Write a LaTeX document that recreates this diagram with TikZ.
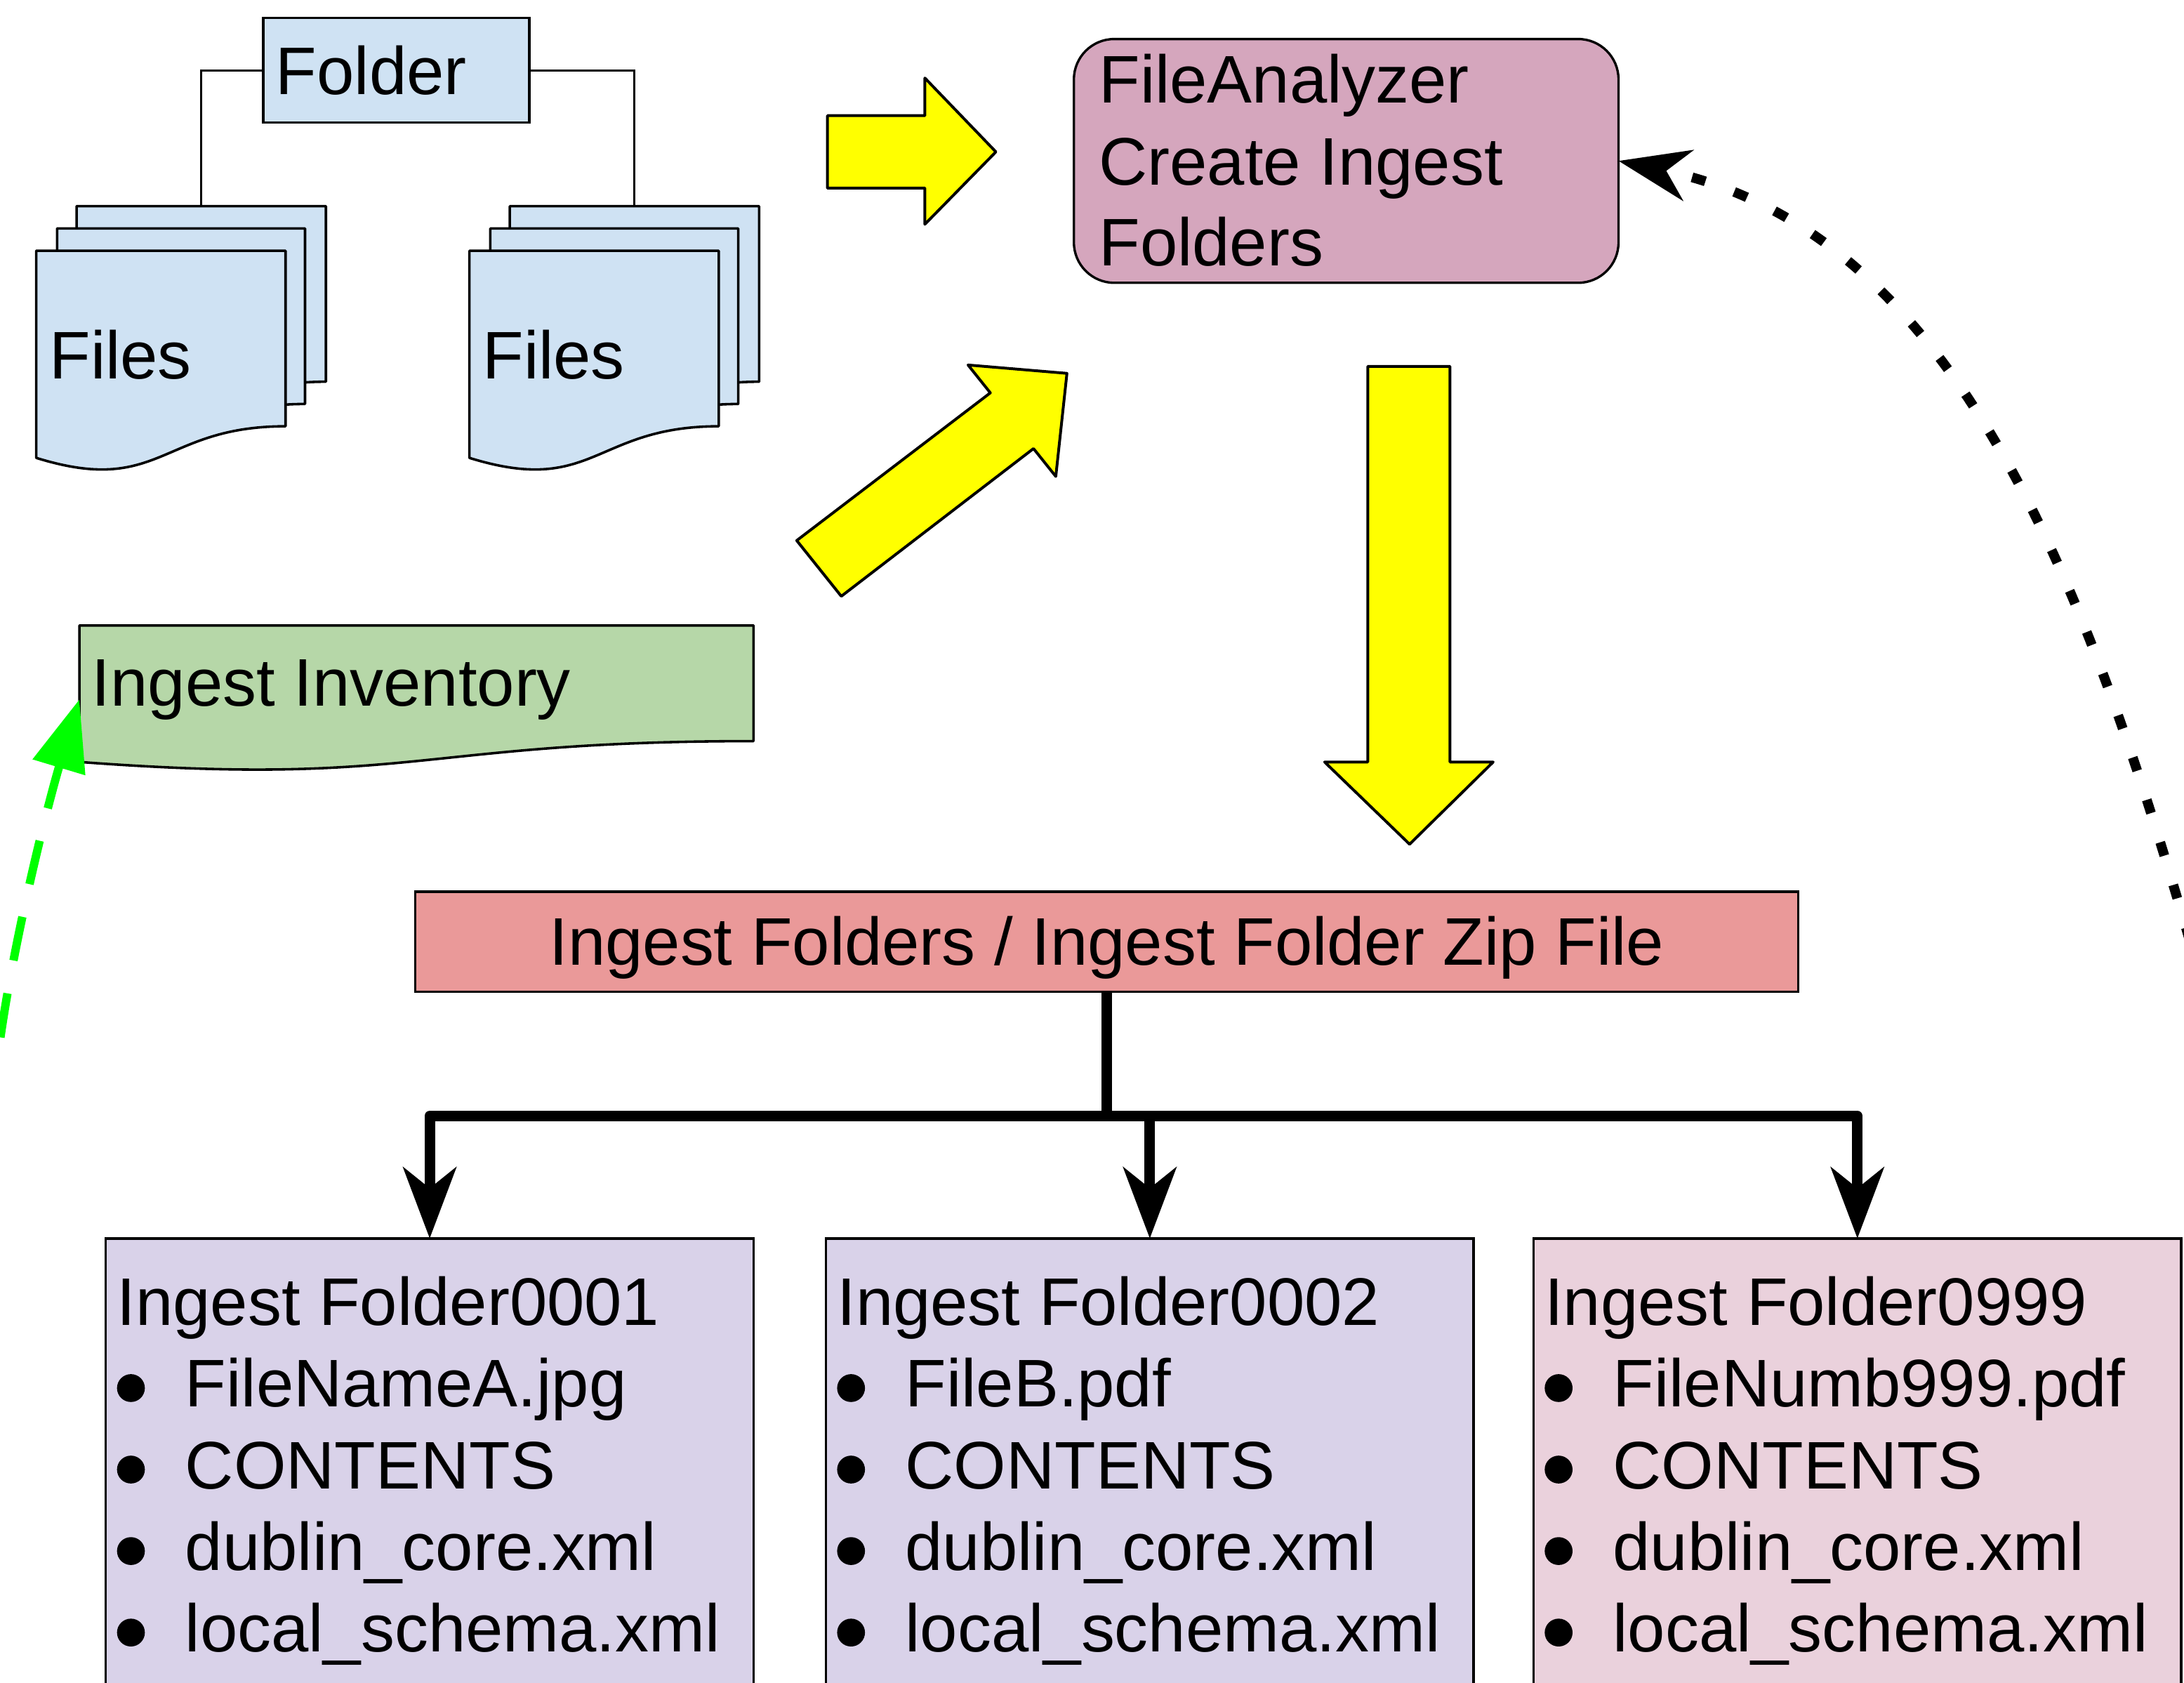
\documentclass[tikz,border=0pt]{standalone}
\usepackage{fontspec}
\setmainfont{Liberation Sans}
\usetikzlibrary{arrows.meta,fit,calc}

\definecolor{cFolder}{HTML}{CFE2F3}
\definecolor{cFA}{HTML}{D5A6BD}
\definecolor{cZip}{HTML}{EA9999}
\definecolor{cInv}{HTML}{B6D7A8}
\definecolor{cPurple}{HTML}{D9D2E9}
\definecolor{cMag}{HTML}{EAD1DC}
\definecolor{cYellow}{HTML}{FFFF00}
\definecolor{cGreen}{HTML}{00FF00}

% document shape: style, left, top, right, right-bottom
\newcommand\docshape[5]{%
  \path[#1] (#2,#3) -- (#4,#3) -- (#4,#5)
    .. controls ({(#2+#4)/2},#5) and ({(#2+#4)/2},{#3+1.40*(#5-#3)})
    .. (#2,{#3+1.18*(#5-#3)}) -- cycle;}

\tikzset{
  txt/.style={font=\fontsize{27.5}{33}\selectfont, inner sep=0pt, outer sep=0pt, anchor=base west},
  region/.style={inner sep=0pt, outer sep=0pt, fit={#1}},
  boxline/.style={draw=black, line width=0.034cm},
  doc/.style={draw=black, line width=0.036cm, fill=#1, line join=round},
  yarrow/.style={draw=black, line width=0.04cm, fill=cYellow, line join=round},
  conn/.style={draw=black, line width=0.03cm},
  treeline/.style={draw=black, line width=0.15cm, line join=round,
    -{Stealth[length=1.02cm,width=0.76cm,inset=0.3cm]}},
  dotarrow/.style={draw=black, line width=0.14cm, dash pattern=on 0.2cm off 0.44cm, dash phase=0.2cm,
    {Stealth[length=1.02cm,width=0.74cm,inset=0.32cm]}-},
  greenarrow/.style={draw=cGreen, line width=0.12cm, dash pattern=on 0.64cm off 0.48cm,
    {Triangle[length=1.02cm,width=0.76cm]}-},
}

\begin{document}
\begin{tikzpicture}[x=0.02cm,y=-0.02cm]
\useasboundingbox (0,0) rectangle (1568,1208);
\clip (0,0) rectangle (1568,1208);

% ---------- Files stacks ----------
\docshape{doc=cFolder}{55}{148}{234}{274}
\docshape{doc=cFolder}{41}{164}{219}{290}
\docshape{doc=cFolder}{26}{180}{205}{306}
\docshape{doc=cFolder}{366}{148}{545}{274}
\docshape{doc=cFolder}{352}{164}{530}{290}
\docshape{doc=cFolder}{337}{180}{516}{306}
\node[region={(55,148) (234,274)}] (lback) {};
\node[region={(366,148) (545,274)}] (rback) {};
\node[txt] (tfilesL) at (35.5,272) {Files};
\node[txt] (tfilesR) at (346.5,272) {Files};

% ---------- Folder ----------
\node[region={(189,13) (380,88)}, boxline, fill=cFolder] (fold) {};
\node[txt] (tfold) at (198,68) {Folder};
\draw[conn] (fold.west) -| (lback.north);
\draw[conn] (fold.east) -| (rback.north);

% ---------- FileAnalyzer ----------
\node[region={(771,28) (1162,203)}, boxline, fill=cFA, rounded corners=0.58cm] (fa) {};
\node[txt] (fa1) at (789,74) {FileAnalyzer};
\node[txt] (fa2) at (789,132.7) {Create Ingest};
\node[txt] (fa3) at (789,191) {Folders};

% ---------- yellow block arrows ----------
\draw[yarrow] (594,83) -- (664,83) -- (664,56) -- (715,109) -- (664,161) -- (664,135) -- (594,135) -- cycle;
\draw[yarrow] (572,388) -- (711,282) -- (695,262) -- (766,268) -- (758,342) -- (742,322) -- (604,428) -- cycle;
\draw[yarrow] (982,263) -- (1041,263) -- (1041,547) -- (1072,547) -- (1012,606) -- (951,547) -- (982,547) -- cycle;

% ---------- Ingest Inventory ----------
\docshape{doc=cInv}{57}{449}{541}{532}
\node[region={(57,449) (541,532)}] (inv) {};
\node[txt] (tinv) at (66,507) {Ingest Inventory};
\coordinate (invtip) at (57,502);
\coordinate (gstart) at (-2,762);
\draw[greenarrow] (invtip) .. controls (35,575) and (8,680) .. (gstart);

% ---------- Ingest Folders / Zip ----------
\node[region={(298,640) (1291,712)}, boxline, fill=cZip] (zip) {};
\node[txt, anchor=base] (tzip) at (794.5,693) {Ingest Folders / Ingest Folder Zip File};

% ---------- folder boxes ----------
\node[region={(76,889) (541,1240)}, boxline, fill=cPurple] (f1) {};
\node[region={(593,889) (1058,1240)}, boxline, fill=cPurple] (f2) {};
\node[region={(1101,889) (1566,1240)}, boxline, fill=cMag] (f3) {};

\foreach \dx/\num/\first/\nm in {0/0001/FileNameA.jpg/a, 517/0002/FileB.pdf/b, 1025/0999/FileNumb999.pdf/c}{
  \node[txt] (t\nm0) at (84+\dx,951.5) {Ingest Folder\num};
  \node[txt] (t\nm1) at (133+\dx,1010) {\first};
  \node[txt] (t\nm2) at (133+\dx,1068.5) {CONTENTS};
  \node[txt] (t\nm3) at (133+\dx,1127) {dublin\_core.xml};
  \node[txt] (t\nm4) at (133+\dx,1185.5) {local\_schema.xml};
  \foreach \yy in {1010,1068.5,1127,1185.5}{
    \fill (94+\dx,\yy-13.6) circle[radius=0.2cm];
  }
}

% ---------- tree connectors ----------
\coordinate (hub) at (zip.south |- 0,801);
\draw[treeline] (zip.south) -- (hub) -| (f1.north);
\draw[treeline] (hub) -| (f2.north);
\draw[treeline] (hub) -| (f3.north);

% ---------- dotted feedback arrow ----------
\coordinate (dstart) at (1586,724);
\draw[dotarrow] (fa.east) .. controls (1410,167) and (1504,432) .. (dstart);

\end{tikzpicture}
\end{document}
